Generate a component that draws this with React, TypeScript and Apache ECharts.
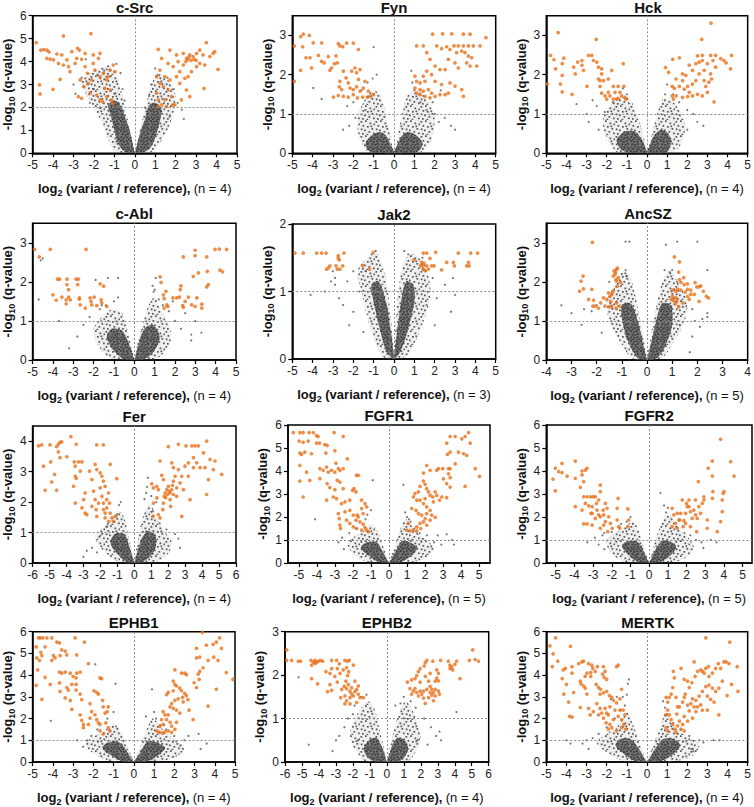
import React, { useEffect, useRef } from 'react';
import * as echarts from 'echarts';

// ---------- chart text / axis data ----------
const panelNames = ['c-Src', 'Fyn', 'Hck', 'c-Abl', 'Jak2', 'AncSZ', 'Fer', 'FGFR1', 'FGFR2', 'EPHB1', 'EPHB2', 'MERTK'];
const replicateCounts = [4, 4, 4, 4, 3, 5, 4, 5, 5, 4, 4, 4];
const qThresholds = [2, 1, 1, 1, 1, 1, 1, 1, 1, 1, 1, 1];
const xLimits = [5, 5, 5, 5, 5, 4, 6, 5.6, 5.5, 5, 6, 5];
const yMaxes = [6, 3.5, 3.5, 3.5, 2, 3.5, 4.5, 6, 6, 6, 3, 6];

const xTicks4 = [-4, -3, -2, -1, 0, 1, 2, 3, 4];
const xTicks5 = [-5, -4, -3, -2, -1, 0, 1, 2, 3, 4, 5];
const xTicks6 = [-6, -5, -4, -3, -2, -1, 0, 1, 2, 3, 4, 5, 6];
const yTicks2 = [0, 1, 2];
const yTicks3 = [0, 1, 2, 3];
const yTicks4 = [0, 1, 2, 3, 4];
const yTicks6 = [0, 1, 2, 3, 4, 5, 6];
const xTickSets = [xTicks5, xTicks5, xTicks5, xTicks5, xTicks5, xTicks4, xTicks6, xTicks5, xTicks5, xTicks5, xTicks6, xTicks5];
const yTickSets = [yTicks6, yTicks3, yTicks3, yTicks3, yTicks2, yTicks3, yTicks4, yTicks6, yTicks6, yTicks6, yTicks3, yTicks6];

// ---------- significant (orange) points: flat [x, y, x, y, ...] ----------
const cSrcSig = [-4.82,4.83,-3.49,5.12,-2.15,5.22,-4.6,4.5,-4.45,4.52,-4.3,4.5,-4.2,4.42,-4.3,4.14,-4.14,4.11,-4.66,2.98,-4.63,2.59,-4.0,2.79,-3.65,3.22,-3.81,4.33,-3.57,4.29,-3.32,4.07,-3.08,4.43,-2.8,4.58,-2.71,4.5,-3.24,3.78,-3.49,3.85,-3.17,3.56,-2.92,3.92,-2.6,4.1,-2.43,3.78,-2.32,3.49,-2.67,3.2,-2.5,2.91,-2.76,2.47,-2.6,2.4,-2.19,2.62,-2.03,4.29,-1.78,4.14,-1.7,4.36,-1.95,3.63,-1.7,3.34,-1.54,3.49,-1.37,3.2,-1.21,3.63,-1.05,3.85,-1.29,3.34,-1.46,2.83,-1.21,2.76,-1.13,2.33,-1.37,2.47,-1.86,2.54,-1.7,2.33,-1.57,2.25,-1.08,2.18,-2.11,3.2,-2.27,3.05,-0.97,3.56,-2.03,3.92,-2.84,4.14,-2.43,4.36,-3.98,4.07,-3.73,3.92,
  1.15,4.53,1.31,4.14,1.72,4.5,2.04,4.29,2.37,4.36,2.53,4.14,2.69,4.29,2.85,4.22,3.02,4.36,3.18,4.5,3.34,4.29,3.5,4.83,3.67,4.22,3.83,4.36,3.91,4.43,4.07,3.66,3.39,2.83,2.69,2.47,2.53,2.76,2.2,3.05,2.04,3.34,1.88,3.78,1.63,3.92,1.47,3.34,1.23,3.05,1.07,2.62,1.15,2.33,1.31,2.11,1.47,2.33,1.63,2.76,1.8,2.47,1.96,2.11,2.28,2.33,2.45,3.27,2.77,3.56,3.02,3.78,3.18,3.92,3.42,3.85,2.12,4.0,1.23,3.63,1.07,3.34,1.39,2.91,1.72,3.2,2.61,3.34,2.37,3.85,2.2,3.56,1.88,2.11,1.55,2.04,1.15,2.04,2.6,4.1,2.75,4.05,2.65,4.2,2.9,4.1,2.5,4.0,3.0,4.05];
const fynSig = [-4.9,2.73,-4.9,1.83,-4.59,2.97,-4.46,3.03,-4.16,3.0,-4.49,2.71,-3.97,2.81,-3.56,2.81,-4.33,2.43,-4.13,2.43,-3.72,2.49,-3.56,2.34,-3.43,2.3,-4.59,2.11,-4.05,2.17,-3.23,2.46,-3.07,2.17,-3.15,2.11,-2.93,2.28,-2.79,2.3,-2.74,2.79,-2.66,2.73,-2.52,2.71,-2.85,2.48,-2.33,2.8,-2.0,2.8,-1.75,2.64,-2.49,2.09,-2.36,1.92,-2.25,1.79,-2.08,2.09,-1.92,2.17,-1.84,2.05,-1.67,2.13,-1.43,1.83,-1.75,1.88,-2.66,1.83,-2.69,1.69,-2.57,1.62,-2.16,1.66,-2.0,1.62,-1.84,1.69,-1.67,1.58,-1.51,1.66,-1.26,1.58,-1.18,1.45,-1.02,1.49,-2.98,1.43,-2.74,1.47,-2.49,1.45,-2.25,1.43,-2.0,1.49,-1.8,1.41,-1.54,1.43,-1.31,1.43,
  1.11,2.73,1.44,2.73,1.61,2.56,1.9,3.03,2.39,3.04,2.84,3.04,3.41,3.03,3.74,3.03,4.52,2.94,2.1,2.73,2.34,2.66,2.59,2.71,2.75,2.64,2.95,2.73,3.16,2.73,3.41,2.73,3.66,2.73,3.9,2.73,4.23,2.73,3.08,2.56,3.33,2.6,3.49,2.56,3.66,2.47,3.82,2.43,1.77,2.39,2.67,2.39,3.0,2.3,3.16,2.17,3.57,2.3,3.74,2.22,4.07,2.22,2.02,2.22,2.26,2.13,2.51,2.13,1.61,2.09,1.85,2.0,1.44,1.96,1.03,1.96,1.11,1.83,1.28,1.79,1.52,1.83,2.02,1.83,2.34,1.75,2.75,1.79,3.0,1.71,3.33,1.62,1.28,1.62,1.44,1.58,1.69,1.62,1.85,1.53,1.03,1.66,1.11,1.53,1.28,1.49,1.52,1.45,1.77,1.41,2.02,1.45,2.26,1.49,2.51,1.49,2.67,1.53,3.41,1.45];
const hckSig = [-4.95,1.76,-4.79,2.49,-4.62,2.38,-4.41,3.07,-4.54,2.15,-4.3,1.76,-4.21,2.28,-4.13,2.42,-4.21,1.98,-4.21,1.56,-3.64,2.19,-3.56,2.02,-3.72,1.5,-3.44,2.32,-3.23,2.36,-3.23,2.24,-3.15,2.11,-2.98,1.7,-2.9,2.49,-2.74,2.49,-2.66,2.36,-2.52,2.9,-2.49,2.32,-2.41,2.19,-2.41,1.89,-2.33,1.85,-2.25,2.15,-2.25,2.02,-2.16,1.85,-2.33,1.7,-2.25,1.53,-2.08,1.46,-2.0,1.38,-1.92,1.89,-1.92,1.55,-1.75,2.11,-1.67,1.7,-1.59,1.55,-1.51,1.38,-1.43,1.7,-1.34,1.55,-1.26,1.46,-1.18,2.28,-1.15,1.7,-1.1,1.42,-1.05,1.38,-1.84,1.46,-1.67,1.38,-1.43,1.4,
  0.92,2.18,1.07,2.06,1.28,2.39,1.61,2.43,1.25,1.7,1.36,1.65,1.44,1.46,1.25,1.46,1.31,1.38,1.77,1.42,2.02,1.44,2.26,1.46,2.51,1.5,2.75,1.46,3.0,1.55,3.33,1.31,1.61,1.7,1.77,1.85,1.93,1.98,2.1,2.24,2.26,2.11,2.43,2.28,2.59,2.32,2.75,2.36,2.84,2.11,3.0,2.28,3.16,2.49,3.28,2.36,3.41,2.49,3.66,2.41,3.82,2.36,3.93,2.3,4.2,2.49,4.15,2.15,2.43,1.85,2.59,2.02,2.84,1.85,2.92,1.7,3.16,2.02,3.21,1.89,3.41,2.19,3.08,1.81,2.72,2.9,3.18,3.31,2.02,1.7,2.26,1.76,1.85,1.63,2.1,1.55,1.77,2.02,1.44,1.89,2.75,2.49,2.51,2.48];
const cAblSig = [-4.9,2.83,-4.67,2.64,-4.13,2.83,-2.37,2.83,-4.0,1.67,-3.84,1.53,-3.77,2.07,-3.67,2.07,-3.56,1.61,-3.35,1.54,-3.31,2.07,-3.31,1.93,-3.23,1.8,-3.23,1.61,-3.35,1.44,-3.15,1.54,-2.86,2.07,-2.75,2.07,-2.78,1.93,-2.7,1.59,-2.7,1.56,-2.66,1.41,-2.41,1.33,-2.17,1.59,-2.13,1.5,-2.09,1.41,-1.97,1.61,-1.84,1.39,-1.68,1.95,-1.63,1.54,-1.6,1.46,-1.51,1.89,-1.35,1.37,
  1.27,2.13,1.32,1.99,1.43,1.67,1.47,1.57,1.47,1.33,1.56,1.76,1.6,1.41,1.65,1.37,1.9,1.59,2.09,1.59,2.22,1.61,2.29,1.9,2.26,1.8,2.38,1.39,2.41,2.64,2.5,1.5,2.41,1.35,2.66,1.61,2.82,1.41,2.9,2.14,2.99,2.81,2.99,2.67,2.99,1.37,3.08,1.59,3.15,2.23,3.32,1.43,3.32,1.33,3.56,2.64,3.59,2.27,3.64,1.93,3.56,1.87,3.97,2.83,4.18,2.84,4.21,2.3,4.34,2.26,4.54,2.83];
const jak2Sig = [-4.87,1.57,-4.46,1.57,-3.8,1.57,-3.56,1.57,-3.34,1.57,-2.46,1.57,-1.02,1.58,-2.74,1.53,-2.74,1.49,-2.69,1.47,-3.15,1.38,-3.23,1.35,-3.31,1.33,-2.85,1.38,-2.79,1.33,-2.66,1.33,-2.52,1.38,-1.54,1.38,-1.2,1.33,
  1.44,1.57,1.61,1.57,2.05,1.58,3.16,1.57,3.77,1.57,4.11,1.57,0.98,1.47,1.36,1.43,1.41,1.38,1.31,1.38,1.44,1.33,1.52,1.31,1.61,1.38,1.69,1.33,1.77,1.49,1.85,1.38,1.97,1.38,2.34,1.32,2.59,1.43,2.92,1.43,2.97,1.38,3.57,1.38,3.66,1.43,3.69,1.38,1.48,1.42];
const ancSZSig = [-2.68,1.76,-2.62,2.02,-2.54,2.15,-2.52,1.82,-2.32,1.55,-2.19,1.81,-2.12,1.53,-2.06,1.38,-2.15,1.38,-1.93,1.33,-1.73,1.59,-2.17,3.01,-1.53,1.72,-1.47,1.63,-1.4,1.68,-1.44,1.5,-1.34,1.76,-1.4,1.38,-1.5,1.36,-1.21,1.46,-1.08,1.38,-1.23,1.33,-1.34,2.15,-1.27,2.19,-1.21,2.32,-1.23,2.06,-1.21,2.02,-1.14,2.11,-1.18,1.89,-1.05,1.99,-1.25,2.24,-1.31,2.28,-1.17,2.35,-1.67,1.38,-1.84,1.46,-1.6,1.55,
  1.09,2.64,1.29,2.51,1.26,2.25,1.29,2.06,1.35,1.99,1.46,2.11,1.48,1.93,1.61,1.95,1.61,1.81,1.02,1.79,1.15,1.76,1.22,1.81,1.35,1.79,1.52,1.74,1.74,1.79,1.91,1.98,1.98,1.87,2.07,1.87,2.14,1.9,2.24,1.76,2.36,1.63,2.44,1.59,1.61,1.63,1.15,1.59,0.96,1.55,1.05,1.52,1.13,1.44,1.26,1.36,1.18,1.5,1.42,1.46,1.68,1.55,1.88,1.68,2.07,1.5,1.74,1.68,1.02,1.63];
const ferSig = [-5.65,3.85,-5.46,3.88,-4.97,3.88,-4.58,3.82,-4.48,3.9,-4.38,3.96,-4.28,3.98,-3.74,4.15,-3.43,3.9,-4.48,3.65,-4.38,3.46,-3.98,3.49,-4.93,3.32,-5.36,3.18,-4.7,2.91,-4.87,2.66,-5.26,2.39,-4.58,2.39,-3.54,3.32,-3.29,3.32,-3.09,3.32,-3.48,3.18,-3.48,2.85,-3.43,2.78,-3.19,3.02,-3.58,2.52,-3.48,1.97,-2.9,2.3,-2.99,2.08,-3.09,1.81,-2.8,1.59,-2.64,3.02,-2.5,2.74,-2.4,2.36,-2.31,3.24,-2.21,3.07,-2.31,2.08,-2.25,1.75,-2.21,1.53,-2.11,1.97,-2.01,2.96,-1.91,2.85,-2.01,2.47,-1.91,2.19,-1.82,1.97,-1.82,1.75,-1.72,1.64,-1.72,1.48,-1.62,2.08,-1.52,2.3,-1.46,1.97,-1.42,1.64,-1.32,1.48,-1.23,1.37,-1.13,1.53,-1.82,2.69,-1.72,2.52,-2.21,3.88,-1.82,3.88,-1.42,3.24,-1.03,2.77,-1.52,1.37,-1.62,1.81,-2.5,1.86,-2.9,1.64,
  1.03,2.6,1.13,2.47,1.33,2.52,1.42,2.41,1.52,3.35,1.62,2.88,1.72,2.74,1.33,2.14,1.13,1.97,1.09,1.53,1.42,1.59,1.52,1.48,1.68,1.75,1.72,1.97,1.76,2.19,1.82,2.3,1.92,2.41,2.01,3.82,2.01,2.52,2.11,2.3,2.11,2.08,2.15,1.86,2.21,3.29,2.31,3.13,2.31,2.69,2.31,2.25,2.41,2.85,2.5,2.47,2.5,2.19,2.6,3.07,2.6,3.9,2.7,2.63,2.8,2.85,2.8,1.53,2.9,2.41,2.99,3.18,3.05,3.85,3.19,2.85,3.19,3.29,3.29,2.08,3.39,3.85,3.49,3.13,3.49,3.46,3.58,3.85,3.68,3.29,3.78,3.85,3.88,3.13,4.08,3.62,4.17,3.13,4.27,4.0,4.27,2.25,4.37,2.74,4.47,3.4,4.66,3.07,4.76,3.35,5.16,2.91,1.95,2.25,2.05,2.35,2.2,2.4,1.85,2.15,2.25,2.55];
const fgfr1Sig = [-5.31,5.67,-4.94,5.67,-4.76,5.67,-4.43,5.67,-4.2,5.67,-3.04,5.67,-4.98,5.3,-4.76,5.25,-4.48,5.3,-4.94,4.78,-4.85,4.72,-4.67,4.82,-4.3,4.75,-4.02,5.54,-3.93,5.5,-4.02,5.21,-3.85,5.21,-3.56,5.15,-3.43,5.11,-3.5,4.78,-2.54,5.5,-3.0,4.89,-4.94,4.24,-4.57,3.95,-4.39,3.59,-4.94,3.56,-4.76,2.87,-3.83,4.1,-3.65,4.03,-3.46,4.17,-3.37,3.95,-3.19,4.03,-3.0,3.95,-2.81,4.1,-2.94,4.34,-2.72,4.03,-2.54,4.1,-3.83,3.67,-3.43,3.45,-3.28,3.28,-2.87,3.59,-2.72,3.52,-3.0,3.19,-3.46,2.73,-3.09,2.87,-2.91,2.8,-2.54,3.23,-2.44,2.66,-2.63,2.58,-2.31,4.53,-2.02,3.16,-1.94,3.23,-1.83,3.09,-2.17,2.73,-1.8,3.81,-1.7,3.81,-2.17,2.29,-1.98,2.08,-1.76,2.08,-1.83,1.86,-1.52,2.73,-1.52,2.37,-1.43,2.15,-1.33,2.58,-1.24,2.44,-1.61,1.79,-1.43,1.69,-1.33,1.54,-1.24,1.43,-1.52,1.43,-1.15,1.36,-2.76,1.93,-2.72,1.65,-2.69,1.5,-2.44,2.22,-2.81,2.15,-2.35,1.86,-2.17,1.72,-1.98,1.57,-1.8,1.5,-1.7,2.0,
  3.2,5.21,3.39,5.5,3.67,5.5,4.04,5.4,4.22,5.5,4.41,5.67,4.5,5.21,3.39,4.82,3.24,4.72,3.85,4.82,4.13,4.75,4.31,4.68,3.67,4.31,3.39,4.1,3.3,4.1,2.98,4.1,4.78,4.1,5.02,3.77,4.22,3.33,3.3,3.88,3.39,3.71,3.2,2.84,3.2,3.45,3.39,3.3,2.56,1.98,2.09,4.24,1.91,3.91,2.28,4.03,2.65,4.03,2.74,4.1,1.63,3.09,1.72,3.33,1.91,3.56,2.0,3.42,2.09,3.23,2.19,3.09,2.28,2.94,2.43,2.87,2.56,3.09,2.65,2.94,2.8,2.73,2.93,2.87,3.02,3.66,1.44,3.02,1.35,2.87,1.54,2.73,1.72,2.73,1.91,2.58,2.0,2.8,2.09,2.44,2.28,2.29,2.46,2.66,1.26,2.37,1.5,2.29,1.63,2.15,1.81,2.08,2.0,1.93,1.91,1.79,1.72,1.72,1.54,1.57,1.35,1.43,1.17,1.4,1.54,1.4,1.76,1.5,2.09,1.65,2.28,1.86,2.37,2.08,1.07,1.72,0.98,1.43,2.09,2.15];
const fgfr2Sig = [-5.14,3.65,-5.02,4.12,-5.02,3.14,-4.84,3.97,-4.66,3.93,-4.66,4.33,-4.39,3.78,-3.95,4.43,-3.95,3.68,-3.59,4.0,-3.5,3.54,-3.41,4.04,-3.32,4.12,-3.59,3.83,-3.68,3.29,-3.95,2.45,-3.59,2.3,-3.5,2.88,-3.32,2.88,-3.14,2.88,-3.0,2.88,-2.88,2.88,-3.41,2.59,-3.23,2.48,-3.05,2.45,-3.05,2.16,-2.82,2.59,-2.7,2.74,-2.61,3.39,-2.61,3.1,-2.88,1.94,-3.11,2.16,-2.79,2.3,-2.7,2.09,-2.61,2.01,-2.46,2.3,-2.43,2.09,-2.34,2.59,-2.25,2.38,-2.34,1.8,-2.16,2.01,-2.07,1.72,-1.98,1.51,-2.21,1.36,-1.71,1.87,-1.66,2.81,-1.63,1.58,-1.71,2.38,-1.57,1.51,-1.14,2.35,-1.09,1.87,-1.14,1.58,-3.5,1.7,-3.32,1.7,-3.05,1.65,-2.61,1.51,-2.43,1.65,
  1.23,2.38,1.32,2.09,1.41,1.72,1.23,1.58,1.5,1.51,1.59,1.87,1.68,2.16,1.77,2.74,1.82,1.58,1.95,1.72,1.95,2.16,2.0,2.59,2.04,2.45,2.13,2.74,2.21,2.23,2.21,1.58,2.3,1.94,2.39,2.3,2.48,2.74,2.48,2.09,2.54,1.36,2.57,1.94,2.66,2.45,2.75,2.16,2.84,2.59,2.93,2.74,2.93,2.88,3.11,1.87,3.11,1.51,2.63,3.54,3.16,4.12,3.38,4.43,3.38,3.78,3.41,3.1,3.38,2.81,3.64,1.36,3.82,1.8,3.91,2.23,3.91,2.74,4.0,3.1,3.82,5.38,4.36,4.41,4.54,3.78,3.96,3.03,1.5,2.16,1.64,1.87,1.86,1.84,2.13,2.45];
const ephb1Sig = [-4.82,5.3,-4.71,5.72,-4.62,5.72,-4.49,5.72,-4.29,5.72,-4.05,5.72,-4.79,4.79,-4.66,4.68,-4.59,5.05,-4.38,5.3,-4.54,4.9,-4.82,3.53,-4.75,4.24,-4.54,2.88,-4.13,3.57,-4.38,3.9,-4.05,4.68,-3.89,4.79,-3.97,4.9,-3.8,5.52,-3.67,5.49,-3.56,5.16,-3.39,5.11,-3.31,4.93,-3.64,4.9,-2.9,5.72,-2.82,4.93,-2.44,5.52,-3.67,4.14,-3.56,4.09,-3.39,4.14,-3.14,4.09,-3.0,3.94,-2.85,3.87,-2.82,4.09,-2.65,4.14,-3.67,3.64,-3.64,3.25,-3.31,3.43,-3.23,3.31,-3.06,3.57,-2.85,3.57,-2.85,3.31,-3.39,2.95,-3.14,2.84,-3.06,2.42,-2.57,2.87,-2.65,3.13,-2.24,4.53,-1.97,3.28,-1.83,3.21,-1.75,3.13,-1.67,3.87,-1.59,3.84,-2.16,2.69,-2.08,2.32,-2.16,2.02,-1.92,2.17,-1.83,1.95,-1.75,1.8,-1.67,1.73,-1.54,2.84,-1.51,2.54,-1.42,2.25,-1.31,2.32,-1.26,2.54,-1.38,1.8,-1.26,1.58,-1.18,1.43,-1.67,1.43,-1.51,1.29,-2.49,1.58,-2.49,1.73,-2.57,1.92,-2.65,2.17,-2.24,1.73,
  3.39,5.97,3.1,5.23,3.1,4.79,3.26,4.83,3.59,5.38,3.92,5.42,4.08,5.52,4.24,5.72,4.33,5.23,3.95,4.83,4.16,4.68,3.67,4.68,3.42,4.34,3.26,4.17,3.18,4.05,4.57,4.12,4.9,3.8,4.08,3.35,3.67,2.57,2.93,1.95,3.23,3.8,2.98,3.65,3.1,3.43,2.03,4.24,2.36,4.09,2.52,4.09,2.6,4.02,1.95,3.72,2.03,3.57,1.95,3.28,1.7,3.21,1.62,3.1,2.11,3.5,2.27,3.4,2.36,3.28,2.52,3.16,2.6,3.06,2.41,2.98,2.19,2.91,2.03,2.84,1.87,2.69,1.79,2.54,1.95,2.47,2.11,2.39,2.27,2.25,2.44,2.77,2.68,2.87,2.73,2.39,1.45,2.32,1.54,2.17,1.37,1.95,1.45,1.73,1.62,1.95,1.7,2.17,1.79,1.83,1.87,1.65,1.29,1.65,1.13,1.43,1.26,1.36,1.42,1.33,1.54,1.39,1.7,1.43,1.87,1.36,2.03,1.5,2.11,1.83];
const ephb2Sig = [-5.9,2.58,-5.9,2.34,-5.61,2.34,-5.22,2.32,-5.08,2.32,-4.47,2.34,-4.33,2.3,-4.23,2.34,-4.04,2.32,-3.9,2.34,-3.78,2.32,-4.43,2.23,-4.23,2.27,-4.14,2.29,-4.43,1.92,-4.08,1.8,-3.59,2.08,-3.35,2.04,-3.25,2.15,-3.25,2.34,-2.96,2.34,-2.8,2.26,-2.92,2.15,-3.06,1.97,-3.35,1.78,-3.49,1.62,-3.25,1.65,-2.92,1.84,-2.76,2.04,-2.57,2.12,-2.47,2.34,-2.33,2.32,-2.21,2.34,-2.37,2.17,-2.25,2.08,-2.31,1.99,-2.41,1.86,-2.51,1.74,-2.66,1.67,-2.72,1.48,-2.47,1.52,-2.37,1.69,-2.27,1.78,-2.17,1.63,-2.08,1.57,-2.08,1.71,-2.37,1.41,-2.17,1.48,-1.98,1.52,-1.88,1.62,-1.78,1.67,-1.68,1.56,-1.58,1.48,-1.38,1.48,-1.97,2.23,-2.47,1.34,-2.17,1.34,-1.78,1.37,-1.68,1.75,-1.88,1.86,
  1.21,1.84,1.46,1.89,1.66,1.92,1.76,1.99,1.86,2.08,1.96,2.15,2.2,2.21,2.26,2.29,2.36,2.34,2.71,2.32,3.17,2.34,2.94,2.12,3.04,2.04,2.94,1.93,3.04,1.87,2.85,1.86,2.55,2.04,2.26,1.97,2.46,1.86,2.55,1.74,2.65,1.67,2.75,1.6,2.85,1.67,2.85,1.52,2.55,1.6,2.36,1.67,2.16,1.63,2.06,1.56,1.86,1.52,1.76,1.6,1.56,1.63,1.36,1.69,1.46,1.56,1.66,1.69,1.96,1.63,2.16,1.47,2.46,1.48,2.65,1.54,3.1,1.56,3.04,1.63,2.26,1.35,2.75,1.41,3.62,2.32,3.72,2.23,3.82,2.19,3.72,2.15,3.88,2.12,4.01,2.25,4.31,1.92,5.06,2.58,4.86,2.34,5.2,2.36,5.4,2.32,4.11,2.32,1.96,1.84];
const mertkSig = [-4.82,5.35,-4.66,4.98,-4.54,5.72,-4.43,4.64,-4.7,4.39,-3.8,5.32,-4.21,3.84,-4.16,4.24,-4.13,3.13,-4.05,4.31,-4.0,3.57,-3.89,2.76,-3.84,2.1,-3.72,2.07,-3.72,4.39,-3.72,4.09,-3.64,3.2,-3.39,4.53,-3.23,4.61,-3.15,4.64,-3.31,3.72,-3.28,3.6,-3.15,3.5,-3.07,3.4,-2.98,3.13,-3.31,2.51,-2.9,2.47,-2.82,2.17,-2.9,4.53,-2.74,4.46,-2.69,4.31,-2.57,4.17,-2.79,4.12,-2.98,4.09,-3.07,3.94,-2.79,3.94,-2.46,4.39,-2.16,4.39,-2.08,4.17,-2.2,4.05,-2.13,3.9,-2.0,3.8,-2.52,3.57,-2.41,3.43,-2.3,3.35,-2.33,3.13,-2.16,3.18,-2.0,3.25,-1.87,3.06,-1.75,2.98,-1.67,2.84,-1.51,2.72,-1.34,2.91,-1.26,3.35,-1.51,4.39,-1.43,4.46,-1.43,2.1,-1.26,1.95,-1.18,2.39,-1.1,2.17,-1.15,1.73,-1.05,1.51,-1.26,1.58,-1.51,1.43,-1.75,1.58,-1.84,1.73,-1.67,1.95,-1.92,2.17,-2.08,2.47,-1.84,2.54,-2.33,2.47,-2.49,2.69,-2.66,2.32,-2.41,2.17,-2.16,2.02,-2.03,1.8,-2.25,2.25,-2.0,2.25,-1.92,1.51,-1.59,2.39,-1.34,2.39,
  0.95,2.98,1.03,2.76,1.11,2.98,1.2,3.13,1.28,3.43,1.31,4.17,1.36,3.87,1.44,2.98,1.03,2.39,1.11,2.17,1.2,1.95,1.28,1.73,1.36,1.51,1.44,1.36,1.52,1.66,1.61,1.88,1.48,2.21,1.61,2.54,1.77,2.76,1.85,2.98,1.9,3.13,1.69,4.31,1.85,3.8,2.02,3.72,2.1,3.43,2.23,3.65,2.34,4.61,2.39,3.94,2.51,4.17,2.67,4.24,2.75,4.17,2.84,4.09,2.92,4.31,2.92,5.72,3.05,4.39,3.08,3.94,3.25,4.09,3.41,4.31,3.54,4.53,3.66,4.31,3.82,4.61,3.93,4.61,4.07,4.53,4.11,5.52,4.2,3.57,4.48,4.39,4.52,3.25,3.98,3.06,3.57,2.17,2.26,2.91,2.43,2.84,2.59,3.03,2.75,3.25,2.92,3.47,3.08,3.54,3.25,3.4,3.41,3.25,3.57,3.4,3.74,3.72,3.0,3.03,3.16,2.88,3.33,2.76,2.02,2.62,2.18,2.69,2.34,2.54,2.51,2.54,2.67,2.63,2.1,2.35,1.85,2.1,1.69,1.51,1.85,1.43,1.77,1.73,2.02,1.88,2.26,2.02,2.43,2.32,2.75,2.39,0.95,2.17,0.95,1.58,1.03,1.43,1.52,2.54,3.0,2.39];

// ---------- non-significant outlying (grey) points ----------
const cSrcNs = [-2.6,3.3,-2.3,3.0,-2.0,2.8,-1.8,3.4,-1.5,3.6,-1.3,3.8,-0.9,3.9,-0.7,3.5,-2.9,2.6,-2.2,2.2,-1.7,2.0,-1.0,2.6,-0.6,2.8,-0.5,2.3,0.7,2.5,0.8,3.0,1.0,3.7,1.6,3.3,1.9,2.8,2.1,2.2,2.4,1.5,1.7,1.6,0.5,2.0,1.2,3.4,-3.0,3.0,-2.4,4.1,2.3,1.9];
const fynNs = [-1.0,2.7,-0.85,2.0,-1.05,1.9,-1.3,1.8,-1.6,1.6,-2.0,1.3,-2.3,1.2,-3.97,1.66,-3.56,1.38,-1.9,0.9,-2.2,0.7,-2.5,0.6,-1.4,1.1,0.9,1.8,0.85,2.1,1.0,1.6,1.3,1.3,1.6,1.1,2.0,1.0,2.2,0.8,2.5,0.9,2.8,0.7,3.0,0.6,1.9,1.3,2.3,1.6];
const hckNs = [-2.5,1.2,-2.9,0.8,-3.0,1.0,-2.4,0.6,-1.0,1.5,-1.2,1.65,-3.5,1.25,-2.7,1.35,1.0,1.75,1.3,1.5,1.6,1.3,2.0,1.1,2.3,1.0,2.5,0.8,2.0,0.6,0.9,1.5,2.8,0.7,-1.7,1.3,-2.1,1.05];
const cAblNs = [-2.5,0.9,-2.8,0.6,-3.2,0.3,-1.4,1.4,-1.0,1.5,-0.8,1.6,-1.7,1.3,-2.2,1.1,-3.7,1.0,-4.7,1.55,-4.5,2.6,-4.6,2.55,-1.9,2.05,-0.8,2.1,-1.3,2.1,-1.6,1.4,0.9,1.9,1.0,1.8,1.05,2.1,0.95,1.75,1.2,1.55,1.4,1.4,2.0,1.0,2.3,0.8,2.8,0.5,3.0,1.0,2.5,1.2,1.7,1.25,2.8,0.65,3.3,0.7,1.9,1.5];
const jak2Ns = [-2.0,1.3,-2.3,1.15,-2.7,0.9,-2.5,0.8,-2.0,0.7,-1.5,0.4,-1.1,1.55,-0.9,1.6,-1.4,1.3,-2.9,1.2,-3.1,1.15,-3.4,1.0,-4.1,0.95,0.5,1.6,0.7,1.55,1.9,1.2,2.1,0.9,1.6,0.8,2.5,1.1,2.9,1.2,3.0,0.95,2.0,0.5,1.4,1.5,-1.7,1.0,-2.2,0.5,-3.0,1.3,-2.9,1.1,2.8,0.7];
const ancSZNs = [-0.85,3.03,-0.7,3.03,-0.85,2.3,-1.0,2.2,-0.8,2.15,-2.0,1.4,-2.2,1.25,-2.6,0.9,-2.5,1.3,-3.0,1.2,-3.4,1.4,-1.5,2.0,-1.2,1.5,0.75,2.95,1.2,3.03,2.0,3.03,0.7,2.3,0.9,2.25,1.0,2.3,2.4,2.3,2.4,1.1,2.4,1.2,1.9,1.0,2.1,0.85,1.8,0.6,1.8,1.3,1.2,2.0,2.2,1.05,1.3,0.9,1.7,0.2,-1.8,0.7];
const ferNs = [-2.5,0.5,-2.8,0.4,-2.2,0.35,-1.6,1.2,-1.2,1.35,-0.9,1.9,-0.8,2.0,-2.0,0.9,0.7,2.3,0.75,2.5,0.8,2.8,0.6,2.1,1.0,2.2,1.1,1.7,1.5,1.3,1.9,1.1,2.4,0.95,2.6,0.8,2.7,0.5,1.3,2.0,-3.0,0.2,-1.0,1.6];
const fgfr1Ns = [-2.5,0.6,-2.8,0.9,-2.6,1.1,-2.2,1.3,-1.8,1.5,-1.2,2.1,-1.0,2.3,-1.3,1.9,-4.1,1.9,-0.9,3.6,0.8,3.4,0.9,2.2,1.0,2.0,1.1,1.9,1.4,1.5,1.7,1.3,2.1,1.2,2.5,0.9,2.9,0.8,3.2,1.25,2.7,1.2,3.6,0.8,3.5,1.0,1.2,1.8];
const fgfr2Ns = [-2.4,0.6,-2.7,0.8,-2.9,1.1,-2.5,1.2,-2.0,1.35,-1.5,1.7,-1.0,2.0,-1.2,1.8,-2.4,1.3,0.6,3.05,0.8,2.5,0.9,2.2,1.0,2.4,1.2,1.9,1.5,1.55,1.9,1.3,2.2,1.2,2.5,1.0,2.8,0.9,2.9,0.65,3.6,0.9,3.3,1.0,-3.3,0.9];
const ephb1Ns = [-2.5,0.7,-2.8,1.0,-2.1,1.2,-1.8,1.5,-1.3,2.0,-1.0,2.3,-1.9,4.5,-0.9,3.6,-4.1,1.9,-2.3,1.0,0.6,2.1,0.9,3.35,1.0,2.3,1.1,2.0,1.3,1.7,1.6,1.5,2.0,1.2,2.5,1.0,3.2,1.3,2.7,1.2,3.6,0.85,3.3,0.6,2.3,0.75,1.5,1.7];
const ephb2Ns = [-2.5,0.8,-2.8,0.6,-2.3,1.0,-1.9,1.3,-1.5,1.5,-1.2,1.55,-2.0,1.1,-4.6,0.4,-5.2,1.95,-3.0,0.5,-3.2,0.25,0.5,1.3,0.8,1.35,1.0,1.5,1.4,1.4,1.7,1.25,2.2,1.0,2.6,0.8,2.9,0.6,3.2,0.5,2.4,0.4,3.1,0.7,4.1,1.15,1.8,0.5,-1.7,0.5];
const mertkNs = [-0.9,3.8,-0.95,3.6,-1.0,3.1,-1.2,3.0,-1.1,2.6,-1.3,2.4,-1.6,2.0,-2.0,1.6,-2.4,1.3,-2.7,1.1,-3.0,1.0,-3.2,0.85,-2.9,0.6,-3.8,0.85,-4.0,1.0,0.8,2.8,0.9,2.5,1.0,2.2,1.3,1.8,1.7,1.5,2.1,1.2,2.6,1.0,2.8,0.9,3.3,1.0,3.6,1.0,2.2,0.6,2.3,0.5,-1.8,2.9,-1.5,3.0];

// ---------- dense point clouds: outlines [sparse left, dense left, sparse right, dense right] ----------
const cSrcCloud = [
  [0,0,-0.9,0.05,-1.3,0.6,-1.6,1.3,-2.0,2.0,-2.4,2.6,-2.6,3.2,-2.0,3.6,-1.3,3.8,-0.9,3.4,-0.6,2.5,-0.35,1.5,-0.12,0.5,-0.02,0.05],
  [0,0,-0.45,0.05,-0.8,0.4,-1.0,1.0,-1.15,1.6,-1.3,2.1,-1.0,2.3,-0.7,2.1,-0.45,1.5,-0.25,1.0,-0.1,0.4,-0.02,0.08],
  [0,0,0.02,0.05,0.1,0.4,0.3,1.2,0.6,2.3,0.9,3.2,1.2,3.5,1.7,3.1,2.0,2.5,1.9,1.8,1.6,1.0,1.2,0.4,0.8,0.05],
  [0,0,0.02,0.08,0.12,0.4,0.3,1.0,0.5,1.5,0.7,2.1,1.0,2.2,1.3,1.9,1.2,1.3,1.0,0.7,0.8,0.3,0.45,0.05]];
const fynCloud = [
  [0,0,-1.2,0,-1.7,0.4,-1.8,0.9,-1.5,1.3,-1.1,1.6,-0.7,1.5,-0.4,1.0,-0.2,0.5,-0.05,0.1],
  [0,0,-0.7,0,-1.2,0.05,-1.4,0.25,-1.1,0.45,-0.7,0.55,-0.4,0.45,-0.15,0.2],
  [0,0,0.05,0.1,0.2,0.5,0.4,1.0,0.7,1.5,1.2,1.6,1.7,1.3,2.0,0.9,1.8,0.3,1.2,0],
  [0,0,0.15,0.2,0.4,0.45,0.7,0.55,1.1,0.45,1.4,0.25,1.2,0.05,0.7,0]];
const hckCloud = [
  [0,0,-1.4,0,-2.0,0.4,-2.2,0.8,-1.9,1.2,-1.4,1.4,-0.9,1.4,-0.5,1.0,-0.2,0.5,-0.03,0.1],
  [0,0,-0.8,0,-1.3,0.1,-1.5,0.35,-1.1,0.55,-0.6,0.55,-0.25,0.35,-0.05,0.1],
  [0,0,0.05,0.1,0.25,0.5,0.5,1.0,0.8,1.4,1.2,1.35,1.6,1.1,1.9,0.7,1.7,0.25,1.2,0],
  [0,0,0.1,0.15,0.35,0.45,0.7,0.6,1.05,0.5,1.2,0.25,0.9,0]];
const cAblCloud = [
  [0,0,-1.2,0.05,-1.8,0.4,-2.0,0.8,-1.6,1.1,-1.1,1.3,-0.6,1.2,-0.3,0.7,-0.1,0.3,-0.02,0.05],
  [0,0,-0.6,0.05,-1.1,0.3,-1.35,0.6,-1.1,0.8,-0.6,0.75,-0.25,0.4,-0.05,0.08],
  [0,0,0.02,0.05,0.15,0.4,0.4,0.9,0.7,1.4,1.0,1.6,1.3,1.3,1.7,0.9,1.8,0.5,1.3,0.1,0.8,0],
  [0,0,0.05,0.08,0.2,0.4,0.5,0.8,0.9,0.9,1.25,0.6,1.0,0.25,0.6,0.05]];
const jak2Cloud = [
  [0,0,-0.6,0.05,-1.2,0.5,-1.6,1.0,-1.8,1.3,-1.3,1.5,-0.8,1.55,-0.4,1.2,-0.15,0.6,-0.02,0.1],
  [0,0,-0.35,0.1,-0.7,0.45,-1.0,0.85,-1.1,1.1,-0.75,1.15,-0.4,0.85,-0.15,0.4,-0.03,0.1],
  [0,0,0.02,0.1,0.1,0.6,0.3,1.2,0.6,1.5,1.0,1.55,1.5,1.4,1.8,1.0,1.5,0.6,0.8,0.1,0.4,0],
  [0,0,0.03,0.1,0.15,0.4,0.35,0.85,0.6,1.15,0.95,1.1,1.0,0.85,0.65,0.4,0.3,0.1]];
const ancSZCloud = [
  [0,0,-0.6,0.05,-1.1,0.5,-1.5,1.0,-1.6,1.5,-1.3,1.9,-0.9,2.3,-0.6,2.0,-0.35,1.3,-0.15,0.6,-0.02,0.1],
  [0,0,-0.35,0.05,-0.7,0.4,-0.95,0.9,-1.0,1.4,-0.65,1.45,-0.35,0.95,-0.15,0.4,-0.03,0.08],
  [0,0,0.02,0.1,0.15,0.6,0.35,1.3,0.6,2.0,0.9,2.3,1.3,1.9,1.6,1.5,1.5,1.0,1.1,0.5,0.6,0.05],
  [0,0,0.03,0.08,0.15,0.4,0.35,0.95,0.6,1.45,0.95,1.4,1.0,0.9,0.75,0.4,0.4,0.05]];
const ferCloud = [
  [0,0,-1.0,0.05,-1.8,0.4,-2.3,0.8,-2.0,1.1,-1.4,1.4,-0.9,1.7,-0.6,1.5,-0.35,0.9,-0.12,0.3,-0.02,0.05],
  [0,0,-0.5,0.05,-1.0,0.3,-1.4,0.65,-1.15,0.95,-0.6,0.95,-0.3,0.55,-0.1,0.2,-0.02,0.05],
  [0,0,0.02,0.05,0.1,0.4,0.3,1.0,0.5,1.5,0.8,1.9,1.0,1.9,1.3,1.5,1.7,1.1,2.2,0.7,2.0,0.3,1.2,0.02],
  [0,0,0.03,0.05,0.15,0.3,0.4,0.75,0.8,1.05,1.25,0.9,1.25,0.5,0.9,0.2,0.4,0.02]];
const fgfr1Cloud = [
  [0,0,-1.2,0.05,-2.0,0.4,-2.3,0.8,-2.0,1.1,-1.4,1.4,-1.0,1.7,-0.7,1.5,-0.4,0.9,-0.15,0.35,-0.02,0.04],
  [0,0,-0.6,0.05,-1.1,0.3,-1.55,0.65,-1.25,0.9,-0.7,0.9,-0.35,0.5,-0.12,0.15,-0.02,0.03],
  [0,0,0.02,0.04,0.15,0.35,0.35,0.8,0.6,1.4,0.9,1.9,1.2,1.7,1.6,1.3,2.1,1.0,2.5,0.6,2.0,0.2,1.2,0.03],
  [0,0,0.02,0.03,0.15,0.2,0.4,0.55,0.7,0.95,1.15,0.9,1.55,0.65,1.2,0.3,0.7,0.05]];
const fgfr2Cloud = [
  [0,0,-1.3,0.05,-2.0,0.4,-2.3,0.9,-2.0,1.2,-1.4,1.5,-0.9,1.8,-0.6,1.5,-0.35,0.9,-0.12,0.3,-0.02,0.04],
  [0,0,-0.6,0.05,-1.1,0.35,-1.45,0.75,-1.15,0.95,-0.6,0.9,-0.3,0.5,-0.1,0.15,-0.02,0.03],
  [0,0,0.02,0.04,0.12,0.35,0.3,0.9,0.55,1.5,0.8,2.0,1.0,2.2,1.3,1.8,1.7,1.4,2.2,1.0,2.4,0.6,1.8,0.15,1.0,0.02],
  [0,0,0.02,0.03,0.12,0.2,0.35,0.6,0.7,0.95,1.1,0.95,1.45,0.7,1.1,0.3,0.6,0.05]];
const ephb1Cloud = [
  [0,0,-1.2,0.05,-2.0,0.4,-2.4,0.8,-2.1,1.1,-1.5,1.4,-1.0,1.75,-0.7,1.5,-0.4,0.9,-0.15,0.35,-0.02,0.04],
  [0,0,-0.6,0.05,-1.1,0.3,-1.55,0.65,-1.25,0.9,-0.7,0.9,-0.35,0.5,-0.12,0.15,-0.02,0.03],
  [0,0,0.02,0.04,0.15,0.35,0.35,0.8,0.6,1.4,0.9,2.0,1.2,1.8,1.6,1.3,2.1,1.0,2.5,0.6,2.0,0.2,1.2,0.03],
  [0,0,0.02,0.03,0.15,0.2,0.4,0.55,0.7,0.95,1.15,0.9,1.55,0.65,1.2,0.3,0.7,0.05]];
const ephb2Cloud = [
  [0,0,-1.2,0,-1.9,0.3,-2.2,0.6,-2.0,0.9,-1.6,1.2,-1.1,1.4,-0.7,1.2,-0.4,0.7,-0.15,0.3,-0.02,0.03],
  [0,0,-0.6,0,-1.1,0.1,-1.35,0.3,-1.05,0.5,-0.6,0.55,-0.3,0.35,-0.1,0.12,-0.02,0.02],
  [0,0,0.02,0.03,0.15,0.3,0.4,0.7,0.7,1.1,1.1,1.4,1.5,1.2,1.8,0.9,2.0,0.6,1.8,0.3,1.2,0],
  [0,0,0.02,0.02,0.1,0.12,0.3,0.35,0.6,0.55,1.05,0.5,1.25,0.3,1.0,0.1,0.6,0]];
const mertkCloud = [
  [0,0,-1.2,0.05,-2.0,0.45,-2.5,0.9,-2.0,1.3,-1.4,1.7,-1.0,2.3,-0.8,2.0,-0.45,1.1,-0.15,0.35,-0.02,0.04],
  [0,0,-0.6,0.05,-1.1,0.35,-1.55,0.75,-1.35,1.05,-0.8,1.05,-0.4,0.6,-0.12,0.15,-0.02,0.03],
  [0,0,0.02,0.04,0.15,0.4,0.4,1.0,0.7,1.7,0.9,2.4,1.1,2.0,1.5,1.5,2.0,1.2,2.6,0.8,2.3,0.3,1.4,0.03],
  [0,0,0.02,0.03,0.15,0.2,0.4,0.6,0.8,1.05,1.35,1.05,1.65,0.75,1.2,0.3,0.7,0.05]];

const sigSets = [cSrcSig, fynSig, hckSig, cAblSig, jak2Sig, ancSZSig, ferSig, fgfr1Sig, fgfr2Sig, ephb1Sig, ephb2Sig, mertkSig];
const nsSets = [cSrcNs, fynNs, hckNs, cAblNs, jak2Ns, ancSZNs, ferNs, fgfr1Ns, fgfr2Ns, ephb1Ns, ephb2Ns, mertkNs];
const cloudSets = [cSrcCloud, fynCloud, hckCloud, cAblCloud, jak2Cloud, ancSZCloud, ferCloud, fgfr1Cloud, fgfr2Cloud, ephb1Cloud, ephb2Cloud, mertkCloud];

// ---------- layout (plot boxes in px: left, top, right, bottom) ----------
const boxes = [
  [32.3, 15.7, 237, 153.3], [292.3, 15.7, 495.7, 153.3], [546.3, 15.7, 749.7, 153.3],
  [32.3, 223.3, 236, 360], [292.3, 224, 495.7, 359], [546.3, 223.3, 749.7, 360],
  [32.3, 426, 236, 563], [288, 425, 490, 563], [546.3, 425, 752, 563],
  [32.3, 631.7, 235, 767], [285, 631.7, 488.7, 766.3], [546.3, 631.7, 749.7, 767],
];

const FONT = '"Liberation Sans", Arial, Helvetica, sans-serif';
const ORANGE = '#E8701A';
const GREY = '#555555';

// speckle textures for the grey clouds (style only)
const makeTile = (dots: number[][], size: number, color: string, dot: number) =>
  'data:image/svg+xml;charset=utf-8,' + encodeURIComponent(
    `<svg xmlns="http://www.w3.org/2000/svg" width="${size}" height="${size}">` +
    dots.map(([x, y]) => `<rect x="${x}" y="${y}" width="${dot}" height="${dot}" fill="${color}"/>`).join('') + '</svg>');
const sparseDots = [[0.5,1],[5,0.3],[9.5,2.5],[2.5,5],[7,6],[11.5,8],[4,9.5],[8.5,11],[0.8,8.5],[13.5,3.5],[13,12.5],[6.5,13.8],[2,13],[10.5,5.5]];
const denseDots = [[0,0],[3,1],[6,0.5],[1.5,3.5],[4.5,4],[7,3],[0.5,6.5],[3.5,7],[6.5,6.5],[2,9],[5.5,9.5],[8,8.5]];
const SPARSE = 15;
const DENSE = 10;
const sparseUrl = makeTile(sparseDots, SPARSE, '#555555', 1.7);
const denseUrl = makeTile(denseDots, DENSE, '#3c3c3c', 1.8);

const pairs = (a: number[]) => {
  const out: number[][] = [];
  for (let k = 0; k < a.length; k += 2) out.push([a[k], a[k + 1]]);
  return out;
};

const richText = {
  b: { fontFamily: FONT, fontSize: 13, fontWeight: 'bold', color: '#111', lineHeight: 17 },
  s: { fontFamily: FONT, fontSize: 9, fontWeight: 'bold', color: '#111', verticalAlign: 'bottom' },
  n: { fontFamily: FONT, fontSize: 13, color: '#111', lineHeight: 17 },
};

function buildOption() {
  const grid: any[] = [];
  const xAxis: any[] = [];
  const yAxis: any[] = [];
  const series: any[] = [];
  const graphic: any[] = [];
  panelNames.forEach((name, i) => {
    const [l, t, r, b] = boxes[i];
    grid.push({ left: l, top: t, width: r - l, height: b - t, show: true, borderColor: '#000', borderWidth: 1.5, backgroundColor: 'transparent' });
    xAxis.push({
      type: 'value', gridIndex: i, min: -xLimits[i], max: xLimits[i],
      axisLine: { show: true, onZero: false, lineStyle: { color: '#000', width: 1.5 } },
      axisTick: { show: true, length: 4, customValues: xTickSets[i], lineStyle: { color: '#000', width: 1.2 } },
      axisLabel: { customValues: xTickSets[i], color: '#222', fontSize: 12, fontFamily: FONT, margin: 6, hideOverlap: false },
      splitLine: { show: false },
      name: `{b|log}{s|2}{b| (variant / reference),} {n|(n = ${replicateCounts[i]})}`,
      nameLocation: 'middle', nameGap: 27,
      nameTextStyle: { rich: richText },
    });
    yAxis.push({
      type: 'value', gridIndex: i, min: 0, max: yMaxes[i],
      axisLine: { show: true, onZero: false, lineStyle: { color: '#000', width: 1.5 } },
      axisTick: { show: true, length: 4, customValues: yTickSets[i], lineStyle: { color: '#000', width: 1.2 } },
      axisLabel: { customValues: yTickSets[i], color: '#222', fontSize: 12, fontFamily: FONT, margin: 6, hideOverlap: false },
      splitLine: { show: false },
      name: '{b|-log}{s|10}{b| (q-value)}',
      nameLocation: 'middle', nameGap: 15,
      nameTextStyle: { rich: richText },
    });
    const cloud = cloudSets[i];
    series.push({
      type: 'custom', xAxisIndex: i, yAxisIndex: i, silent: true, clip: true, z: 1,
      data: cloud.map(() => [0, 0]),
      renderItem: (params: any, api: any) => {
        const poly = cloud[params.dataIndex];
        const pts: number[][] = [];
        for (let k = 0; k < poly.length; k += 2) pts.push(api.coord([poly[k], poly[k + 1]]));
        const dense = params.dataIndex % 2 === 1;
        const shape = { points: pts, smooth: 0.3 };
        if (dense) {
          return {
            type: 'group',
            children: [
              { type: 'polygon', shape, style: { fill: '#5a5a5a', opacity: 0.82 } },
              { type: 'polygon', shape, style: { fill: { type: 'pattern', image: denseUrl, repeat: 'repeat', imageWidth: DENSE, imageHeight: DENSE } } },
            ],
          };
        }
        return {
          type: 'group',
          children: [
            { type: 'polygon', shape, style: { fill: '#7a7a7a', opacity: 0.12 } },
            { type: 'polygon', shape, style: { fill: { type: 'pattern', image: sparseUrl, repeat: 'repeat', imageWidth: SPARSE, imageHeight: SPARSE } } },
          ],
        };
      },
    });
    series.push({
      type: 'scatter', xAxisIndex: i, yAxisIndex: i, silent: true, z: 2,
      data: pairs(nsSets[i]), symbolSize: 2.2, itemStyle: { color: GREY },
      markLine: {
        silent: true, symbol: 'none', label: { show: false },
        lineStyle: { color: '#8a8a8a', width: 1, type: [2, 2] },
        data: [{ xAxis: 0 }, { yAxis: qThresholds[i] }],
      },
    });
    series.push({
      type: 'scatter', xAxisIndex: i, yAxisIndex: i, silent: true, z: 3,
      data: pairs(sigSets[i]), symbolSize: 3.7, itemStyle: { color: ORANGE },
    });
    graphic.push({
      type: 'text', x: (l + r) / 2, y: Math.max(0, t - 17),
      style: { text: name, fontSize: 15, fontWeight: 'bold', fontFamily: FONT, fill: '#111', align: 'center', verticalAlign: 'top' },
    });
  });
  return { animation: false, backgroundColor: '#fff', grid, xAxis, yAxis, series, graphic };
}

export default function App() {
  const ref = useRef<HTMLDivElement>(null);
  useEffect(() => {
    if (!ref.current) return;
    const chart = echarts.init(ref.current, undefined, { renderer: 'svg' });
    chart.setOption(buildOption() as any);
    return () => chart.dispose();
  }, []);
  return <div ref={ref} style={{ position: 'absolute', left: 0, top: 0, width: 754, height: 807 }} />;
}
